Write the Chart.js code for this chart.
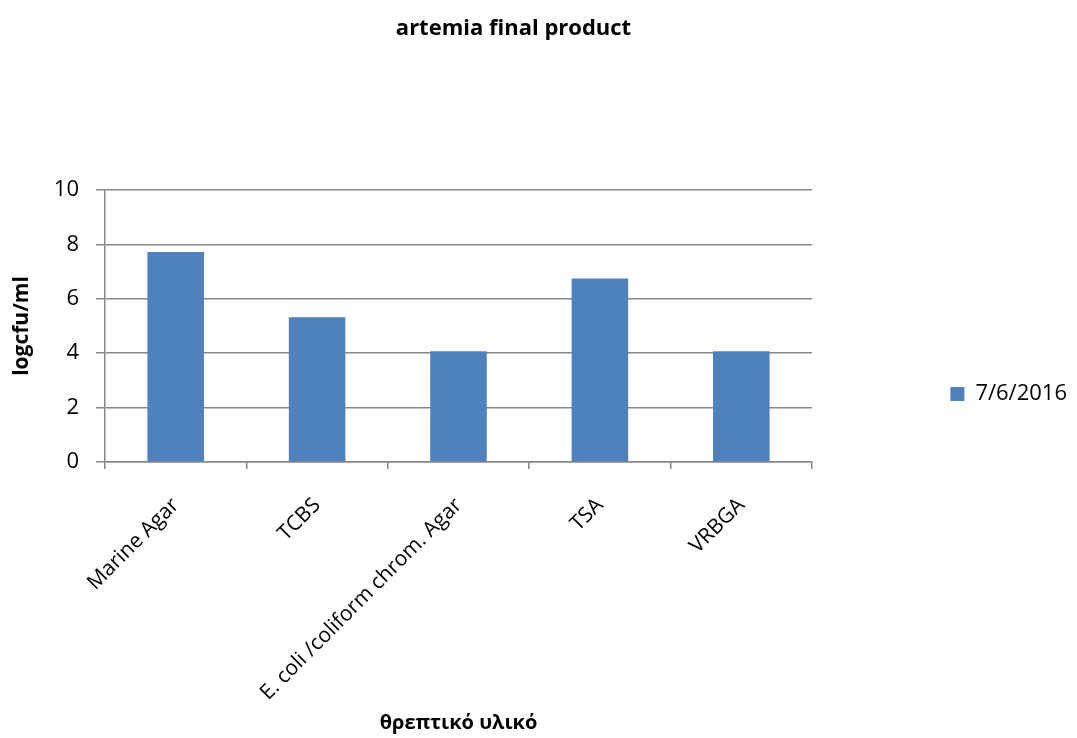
<!DOCTYPE html>
<html>
<head>
<meta charset="utf-8">
<script src="https://cdn.jsdelivr.net/npm/chart.js@4"></script>
<style>
  html, body { margin: 0; padding: 0; background: #fff; }
</style>
</head>
<body>
<canvas id="myChart" width="1077" height="738"></canvas>
<script>
const categories = ['Marine Agar', 'TCBS', 'E. coli /coliform chrom. Agar', 'TSA', 'VRBGA'];
const seriesName = '7/6/2016';
const seriesValues = [7.72, 5.32, 4.07, 6.75, 4.07];
const yTicks = [0, 2, 4, 6, 8, 10];

const FONT = "'Open Sans', sans-serif";
const GRID = '#878787';

const ctx = document.getElementById('myChart').getContext('2d');

const data = {
  labels: categories,
  datasets: [{
    label: seriesName,
    data: seriesValues,
    backgroundColor: '#4f81bd',
    borderWidth: 0,
    barPercentage: 0.4,
    categoryPercentage: 1.0
  }]
};

const config = {
  type: 'bar',
  data: data,
  options: {
    responsive: false,
    animation: false,
    layout: { padding: { left: -50, right: 0, top: 0, bottom: -50 } },
    plugins: {
      title: {
        display: true,
        text: 'artemia final product',
        color: '#000',
        font: { family: FONT, size: 22, weight: 'bold' },
        padding: { top: 16, bottom: 147.6 }
      },
      legend: {
        position: 'right',
        labels: {
          color: '#000',
          font: { family: FONT, size: 22 },
          boxWidth: 14,
          boxHeight: 14,
          padding: 2
        }
      },
      tooltip: { enabled: false }
    },
    scales: {
      x: {
        grid: { display: true, offset: true, drawOnChartArea: false, drawTicks: true, tickLength: 7, color: GRID, lineWidth: 1.5 },
        border: { display: true, color: GRID, width: 1.5 },
        ticks: {
          color: '#000',
          font: { family: FONT, size: 21 },
          minRotation: 45,
          maxRotation: 45,
          autoSkip: false,
          padding: 24
        },
        title: {
          display: true,
          text: 'θρεπτικό υλικό',
          color: '#000',
          font: { family: FONT, size: 20, weight: 'bold' },
          padding: { top: 0, bottom: 53 }
        },
        afterFit: (scale) => { scale.height = 326; }
      },
      y: {
        min: yTicks[0],
        max: yTicks[yTicks.length - 1],
        ticks: {
          stepSize: yTicks[1] - yTicks[0],
          color: '#000',
          font: { family: FONT, size: 22 },
          padding: 17
        },
        grid: { color: GRID, lineWidth: 1.5, tickLength: 9 },
        border: { display: true, color: GRID, width: 1.5 },
        title: {
          display: true,
          text: 'logcfu/ml',
          color: '#000',
          font: { family: FONT, size: 21, weight: 'bold' },
          padding: { top: 59.4, bottom: 0 }
        },
        afterFit: (scale) => { scale.width = 155; }
      },
      spacer: {
        type: 'linear',
        position: 'right',
        display: true,
        grid: { display: false, drawTicks: false },
        border: { display: false },
        ticks: { display: false },
        // leave room so the plot area ends where the legend column begins
        afterFit: (scale) => { scale.width = 265 - scale.chart.legend.width; }
      }
    }
  }
};

const chart = new Chart(ctx, config);
</script>
</body>
</html>
